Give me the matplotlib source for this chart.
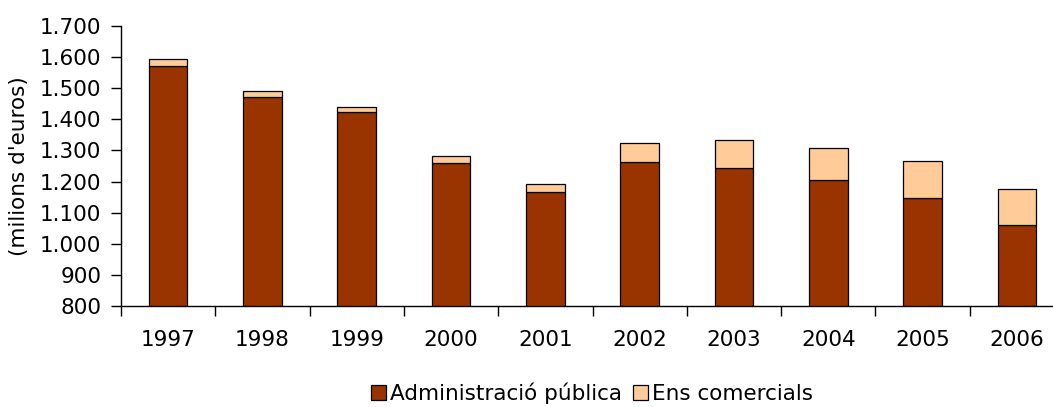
import matplotlib
matplotlib.use("Agg")
import matplotlib.pyplot as plt
import numpy as np
from matplotlib.ticker import FuncFormatter

years = ["1997", "1998", "1999", "2000", "2001", "2002", "2003", "2004", "2005", "2006"]
admin = [1572, 1473, 1422, 1260, 1166, 1263, 1243, 1205, 1146, 1059]
ens = [23, 17, 19, 22, 26, 62, 92, 104, 121, 118]

plt.rcParams['font.family'] = ['DejaVu Sans']
W, H = 1053, 407
fig = plt.figure(figsize=(W / 100, H / 100), dpi=100)
left, right_px, top, bottom = 121, 1053, 26, 306
ax = fig.add_axes([left / W, (H - bottom) / H, (right_px - left) / W, (bottom - top) / H])

x = np.arange(len(years))
bw = 0.41
ax.bar(x, admin, bw, bottom=0, color="#993300", edgecolor="black", linewidth=0.9,
       label="Administració pública", zorder=2)
ax.bar(x, ens, bw, bottom=admin, color="#FFCC99", edgecolor="black", linewidth=0.9,
       label="Ens comercials", zorder=2)

cat_w = 94.3
ax.set_xlim(-0.5, -0.5 + (right_px - left) / cat_w)
ax.set_ylim(800, 1700)
ax.set_yticks(np.arange(800, 1701, 100))
ax.yaxis.set_major_formatter(FuncFormatter(lambda v, p: f"{int(v):,}".replace(",", ".")))

fs = 15.5
ax.set_xticks(np.arange(-0.5, 9, 1.0))
ax.set_xticklabels([])
ax.set_xticks(x, minor=True)
ax.set_xticklabels(years, minor=True)
ax.tick_params(axis='x', which='major', direction='out', length=7, width=1)
ax.tick_params(axis='x', which='minor', length=0, pad=17, labelsize=fs)
ax.tick_params(axis='y', direction='out', length=7, width=1, pad=7, labelsize=fs)

for s in ["top", "right"]:
    ax.spines[s].set_visible(False)
for s in ["left", "bottom"]:
    ax.spines[s].set_linewidth(1)

ax.set_ylabel("(milions d'euros)", fontsize=fs)
ax.yaxis.set_label_coords(-0.099, 0.5)

fig.legend(loc='center', bbox_to_anchor=(0.562, 0.033), ncol=2, frameon=False,
           fontsize=fs, handlelength=0.7, handleheight=0.7, handletextpad=0.2,
           columnspacing=0.5, borderaxespad=0, borderpad=0)

fig.savefig("out.png", dpi=100)
